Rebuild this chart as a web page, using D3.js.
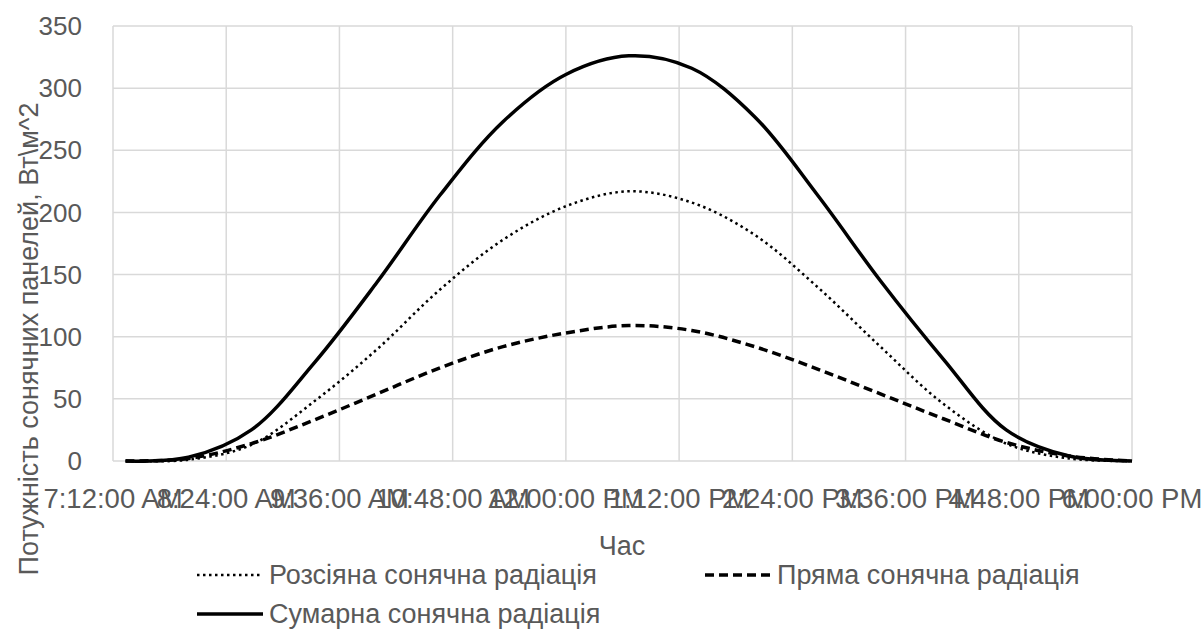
<!DOCTYPE html>
<html lang="uk">
<head>
  <meta charset="UTF-8" />
  <title>Потужність сонячних панелей</title>
  <script src="https://d3js.org/d3.v7.min.js"></script>
  <style>
    html, body {
      margin: 0;
      background: #fff;
      font-family: "Liberation Sans", Arial, sans-serif;
    }
    svg { display: block; }
    .grid line { stroke: #d9d9d9; stroke-width: 1.5; }
    .tick-label, .axis-title, .legend text { fill: #595959; }
    .y-label { font-size: 26px; }
    .x-label { font-size: 27.5px; }
    .axis-title, .legend text { font-size: 27px; }
    .series { fill: none; stroke: #000; }
  </style>
</head>
<body>
  <svg id="chart" width="1204" height="630"></svg>
  <script>
    // chart data
    const times = ["7:20", "8:00", "8:40", "9:20", "10:00", "10:40", "11:20", "12:00", "12:40",
                   "13:20", "14:00", "14:40", "15:20", "16:00", "16:40", "17:20", "18:00"];
    const diffuse = [0, 1, 13, 48, 90, 138, 178, 205, 217, 208, 182, 140, 92, 46, 14, 2, 0];
    const direct  = [0, 2, 14, 33, 54, 75, 92, 103, 109, 105, 92, 74, 54, 34, 15, 4, 0];
    const total   = [0, 3, 25, 79, 144, 214, 273, 311, 326, 316, 277, 214, 145, 82, 25, 4, 0];

    const xTicks = ["7:12", "8:24", "9:36", "10:48", "12:00", "13:12", "14:24", "15:36", "16:48", "18:00"];
    const xTickLabels = ["7:12:00 AM", "8:24:00 AM", "9:36:00 AM", "10:48:00 AM", "12:00:00 PM",
                         "1:12:00 PM", "2:24:00 PM", "3:36:00 PM", "4:48:00 PM", "6:00:00 PM"];
    const yTicks = [0, 50, 100, 150, 200, 250, 300, 350];

    const seriesNames = ["Розсіяна сонячна радіація", "Пряма сонячна радіація", "Сумарна сонячна радіація"];

    const toMin = s => { const [h, m] = s.split(":").map(Number); return h * 60 + m; };

    const margin = { top: 26, right: 72, bottom: 169, left: 113 };
    const W = 1204, H = 630;

    const x = d3.scaleLinear()
      .domain([toMin(xTicks[0]), toMin(xTicks[xTicks.length - 1])])
      .range([margin.left, W - margin.right]);
    const y = d3.scaleLinear()
      .domain([0, 350])
      .range([H - margin.bottom, margin.top]);

    const svg = d3.select("#chart");

    // gridlines
    const grid = svg.append("g").attr("class", "grid");
    grid.selectAll(".h").data(yTicks).enter().append("line")
      .attr("x1", x.range()[0]).attr("x2", x.range()[1])
      .attr("y1", d => y(d)).attr("y2", d => y(d));
    grid.selectAll(".v").data(xTicks).enter().append("line")
      .attr("x1", d => x(toMin(d))).attr("x2", d => x(toMin(d)))
      .attr("y1", y.range()[0]).attr("y2", y.range()[1]);

    // y labels
    svg.append("g").selectAll("text").data(yTicks).enter().append("text")
      .attr("class", "tick-label y-label")
      .attr("x", 82).attr("y", d => y(d))
      .attr("dy", "0.35em")
      .attr("text-anchor", "end")
      .text(d => d);

    // x labels (they overlap in the original too)
    svg.append("g").selectAll("text").data(xTicks).enter().append("text")
      .attr("class", "tick-label x-label")
      .attr("x", d => x(toMin(d))).attr("y", 508)
      .attr("text-anchor", "middle")
      .text((d, i) => xTickLabels[i]);

    // axis titles
    svg.append("text").attr("class", "axis-title")
      .attr("x", 622).attr("y", 555)
      .attr("text-anchor", "middle")
      .text("Час");
    svg.append("text").attr("class", "axis-title")
      .attr("transform", "translate(38,339) rotate(-90)")
      .attr("text-anchor", "middle")
      .text("Потужність сонячних панелей, Вт\\м^2");

    // lines
    const styles = [
      { width: 2.5, dash: "2.5 3.5" },
      { width: 3.5, dash: "9 5" },
      { width: 3.5, dash: null }
    ];
    const allSeries = [diffuse, direct, total];

    const line = d3.line()
      .x((d, i) => x(toMin(times[i])))
      .y(d => y(d))
      .curve(d3.curveCatmullRom.alpha(0.5));

    allSeries.forEach((vals, k) => {
      svg.append("path")
        .attr("class", "series")
        .attr("d", line(vals))
        .attr("stroke-width", styles[k].width)
        .attr("stroke-dasharray", styles[k].dash);
    });

    // legend
    const legendPos = [[197, 575], [705, 575], [197, 614]];
    const legend = svg.append("g").attr("class", "legend");
    seriesNames.forEach((name, k) => {
      const [lx, ly] = legendPos[k];
      legend.append("line")
        .attr("x1", lx).attr("x2", lx + 66)
        .attr("y1", ly).attr("y2", ly)
        .attr("stroke", "#000")
        .attr("stroke-width", styles[k].width)
        .attr("stroke-dasharray", styles[k].dash);
      legend.append("text")
        .attr("x", lx + 72).attr("y", ly)
        .attr("dy", "0.35em")
        .text(name);
    });
  </script>
</body>
</html>
